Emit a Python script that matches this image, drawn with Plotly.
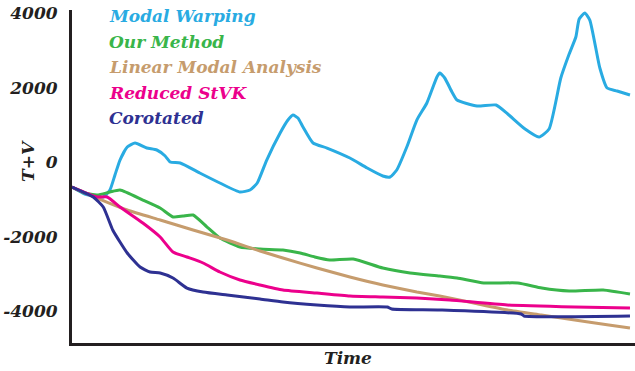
import plotly.graph_objects as go

# ---- data (time in % of run, energy T+V) ----
names = ["Modal Warping", "Our Method", "Linear Modal Analysis", "Reduced StVK", "Corotated"]
colors = ["#29ABE2", "#39B54A", "#C69C6D", "#EC008C", "#2E3192"]

mw_t = [0, 2.3, 5.6, 6.8, 7.7, 8.6, 9.9, 11.3, 13.4, 15.2, 16.7, 17.6, 19.4, 22.9, 26.5, 30.1, 31.9,
        33.2, 34.9, 37.3, 38.7, 39.6, 40.5, 41.4, 43.2, 45.7, 49.8, 52.9, 55.7, 57.0, 58.2, 60.0, 61.8,
        63.6, 65.4, 65.9, 66.8, 68.1, 69.0, 72.6, 76.0, 78.1, 81.2, 83.7, 85.5, 87.6, 89.1, 90.3, 90.9,
        91.9, 92.8, 94.6, 95.9, 97.7, 100]
mw_v = [-658, -846, -926, -738, -336, 67, 416, 524, 389, 336, 175, 13, -13, -282, -550, -792, -738,
        -550, 67, 792, 1141, 1275, 1195, 953, 524, 389, 121, -148, -362, -389, -201, 416, 1141,
        1598, 2296, 2403, 2269, 1893, 1678, 1517, 1544, 1302, 899, 685, 899, 2269, 2913, 3370, 3853,
        4014, 3826, 2537, 2000, 1920, 1812]

om_t = [0, 2.3, 4.5, 6.8, 8.6, 12.7, 15.8, 18.1, 19.9, 21.7, 24.2, 26.5, 30.1, 33.7, 37.8, 40.9, 43.5,
        46.2, 50.4, 55.7, 60.6, 65.9, 69.0, 73.8, 79.9, 84.2, 89.1, 95.2, 100]
om_v = [-658, -819, -873, -792, -738, -1007, -1222, -1463, -1436, -1410, -1732, -2027, -2269, -2323,
        -2349, -2430, -2537, -2618, -2591, -2833, -2967, -3047, -3101, -3235, -3235, -3370, -3450,
        -3423, -3531]

lma_t = [0, 4.5, 9.9, 15.8, 21.7, 27.8, 33.7, 37.8, 43.9, 49.8, 55.7, 61.8, 65.9, 72.0, 78.1, 84.1,
         90.1, 96.2, 100]
lma_v = [-658, -953, -1275, -1544, -1812, -2081, -2376, -2564, -2833, -3074, -3289, -3477, -3584,
         -3773, -3961, -4095, -4229, -4363, -4443]

rs_t = [0, 4.5, 6.3, 8.6, 12.7, 15.8, 18.1, 20.6, 23.5, 26.5, 30.1, 33.7, 37.8, 43.9, 49.8, 55.7,
        61.8, 67.7, 78.0, 90.1, 100]
rs_v = [-658, -926, -926, -1195, -1624, -2000, -2403, -2537, -2698, -2940, -3155, -3289, -3423, -3504,
        -3584, -3611, -3638, -3692, -3826, -3880, -3907]

co_t = [0, 3.8, 5.6, 7.3, 8.6, 9.9, 12.2, 14.0, 15.8, 18.1, 20.6, 23.5, 27.8, 33.7, 37.8, 43.9, 49.8,
        56.5, 57.3, 65.9, 80.5, 81.0, 100]
co_v = [-658, -926, -1195, -1812, -2135, -2430, -2806, -2940, -2967, -3101, -3370, -3477, -3558, -3665,
        -3746, -3826, -3880, -3880, -3934, -3960, -4068, -4120, -4120]

series_t = [mw_t, om_t, lma_t, rs_t, co_t]
series_v = [mw_v, om_v, lma_v, rs_v, co_v]

ytick_vals = [-4000, -2000, 0, 2000, 4000]
ytick_text = ["-4000", "-2000", "0", "2000", "4000"]

FONT = "DejaVu Serif"
INK = "#231F20"

W, H = 635, 371
L, T, B = 72, 10, 28
PW = W - L
PH = H - T - B

fig = go.Figure()
for t, v, c, n in zip(series_t, series_v, colors, names):
    fig.add_trace(go.Scatter(x=t, y=v, mode="lines", name=n,
                             line=dict(color=c, width=3, shape="spline", smoothing=0.5)))

# legend as coloured text
for i, (n, c) in enumerate(zip(names, colors)):
    fig.add_annotation(text="<i>" + n + "</i>", x=35 / PW, y=(PH - (6 + 25.5 * i)) / PH,
                       xref="paper", yref="paper", xanchor="left", yanchor="middle",
                       showarrow=False, font=dict(family=FONT, size=17, color=c, weight="bold"))

fig.add_annotation(text="<i>Time</i>", x=276 / PW, y=-15 / PH, xref="paper", yref="paper",
                   xanchor="center", yanchor="middle", showarrow=False,
                   font=dict(family=FONT, size=17, color=INK, weight="bold"))
fig.add_annotation(text="<i>T+V</i>", x=-44 / PW, y=182 / PH, xref="paper", yref="paper",
                   xanchor="center", yanchor="middle", showarrow=False, textangle=-90,
                   font=dict(family=FONT, size=17, color=INK, weight="bold"))

fig.update_layout(
    width=W, height=H,
    margin=dict(l=L, r=0, t=T, b=B),
    paper_bgcolor="white", plot_bgcolor="white",
    showlegend=False,
    xaxis=dict(range=[0, 100.9], showline=True, linecolor=INK, linewidth=3,
               showticklabels=False, ticks="", showgrid=False, zeroline=False),
    yaxis=dict(range=[-4846, 4095], showline=True, linecolor=INK, linewidth=3,
               tickvals=ytick_vals, ticktext=["<i>" + s + "</i>" for s in ytick_text],
               ticks="", showgrid=False, zeroline=False, ticklabelstandoff=8,
               tickfont=dict(family=FONT, size=17, color=INK, weight="bold")),
)

fig.write_html("out.html", config={"displayModeBar": False},
               post_script="document.body.style.margin='0';document.body.style.overflow='hidden';")
